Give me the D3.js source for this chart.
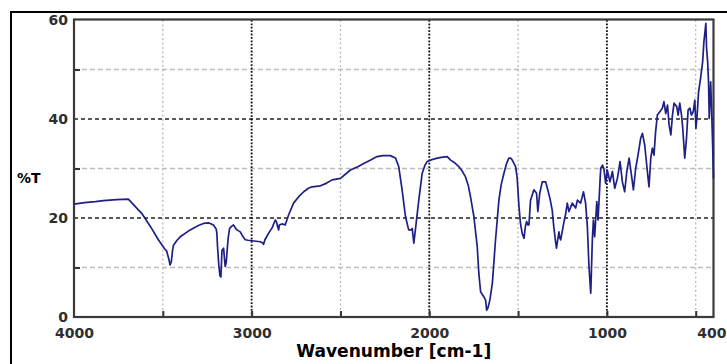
<!DOCTYPE html>
<html>
<head>
<meta charset="utf-8">
<script src="https://cdn.jsdelivr.net/npm/d3@7"></script>
<style>
	html, body { margin: 0; padding: 0; background: #fff; }
	svg { display: block; }
	.lbl text { font-family: 'DejaVu Sans', sans-serif; font-weight: bold; font-size: 14px; fill: #2e2e2e; }
</style>
</head>
<body>
<div id="chart"></div>
<script>
// spectrum (wavenumber cm-1, %T)
var wavenumber = [
	4000, 3940, 3880, 3835, 3760, 3694, 3660, 3618, 3570, 3525, 3490, 3478, 3465, 3459, 3452, 3445, 3440, 3420, 3402, 3346,
	3300, 3271, 3240, 3215, 3200, 3196, 3192, 3185, 3178, 3173, 3167, 3158, 3152, 3149, 3143, 3139, 3132, 3124, 3110, 3102,
	3090, 3083, 3064, 3050, 3036, 3020, 2998, 2975, 2951, 2940, 2933, 2925, 2905, 2885, 2867, 2860, 2852, 2848, 2844, 2830,
	2811, 2792, 2764, 2735, 2707, 2680, 2660, 2613, 2580, 2547, 2500, 2444, 2400, 2369, 2330, 2294, 2260, 2219, 2190, 2172,
	2153, 2134, 2116, 2100, 2096, 2087, 2074, 2059, 2040, 2025, 2012, 1985, 1955, 1925, 1899, 1880, 1855, 1834, 1815, 1796,
	1780, 1768, 1749, 1730, 1721, 1711, 1695, 1683, 1677, 1670, 1659, 1645, 1627, 1608, 1595, 1580, 1565, 1552, 1542, 1533,
	1514, 1505, 1495, 1487, 1477, 1467, 1458, 1452, 1445, 1439, 1430, 1411, 1396, 1389, 1384, 1378, 1364, 1345, 1333, 1321,
	1308, 1299, 1290, 1284, 1270, 1265, 1260, 1245, 1232, 1223, 1214, 1195, 1176, 1166, 1148, 1132, 1120, 1110, 1101, 1091,
	1082, 1076, 1069, 1057, 1050, 1039, 1035, 1025, 1016, 1007, 998, 983, 969, 956, 941, 926, 913, 900, 888, 875,
	862, 851, 838, 825, 810, 800, 787, 776, 763, 753, 744, 735, 726, 716, 701, 688, 679, 669, 659, 650,
	640, 631, 622, 607, 599, 590, 580, 573, 562, 552, 543, 533, 524, 514, 505, 499, 492, 484, 473, 461,
	454, 443, 439, 433, 428, 424, 416, 411, 405, 400
];
var transmittance = [
	22.8, 23.1, 23.3, 23.5, 23.7, 23.8, 22.5, 20.9, 18.3, 15.6, 13.8, 13.3, 11.5, 10.5, 11.2, 13.5, 14.5, 15.5, 16.2, 17.6,
	18.5, 18.9, 19.0, 18.6, 17.8, 17.0, 14.2, 10.5, 8.3, 8.1, 13.5, 13.9, 11.5, 10.2, 11.0, 12.9, 16.0, 17.9, 18.4, 18.6,
	17.9, 17.6, 17.2, 16.3, 15.6, 15.5, 15.4, 15.3, 15.2, 15.0, 14.7, 15.6, 16.9, 18.0, 19.6, 19.2, 18.0, 17.6, 18.6, 18.8,
	18.6, 20.6, 23.0, 24.3, 25.3, 26.0, 26.3, 26.5, 27.0, 27.7, 28.0, 29.7, 30.4, 31.0, 31.7, 32.4, 32.6, 32.6, 32.1, 30.4,
	25.7, 20.3, 17.6, 17.6, 17.9, 14.9, 18.9, 23.6, 29.0, 30.6, 31.4, 31.8, 32.1, 32.3, 32.4, 31.7, 31.1, 30.4, 29.5, 28.3,
	26.5, 24.3, 20.3, 14.2, 8.8, 5.1, 4.2, 3.4, 1.4, 1.8, 3.4, 6.8, 15.6, 23.6, 26.8, 29.0, 31.0, 32.1, 32.1, 31.7,
	30.4, 28.0, 22.3, 19.0, 16.9, 15.9, 18.5, 19.3, 18.6, 18.6, 23.6, 25.7, 25.0, 21.3, 23.0, 25.0, 27.3, 27.3, 25.7, 24.0,
	21.6, 18.2, 15.5, 13.9, 17.2, 16.0, 15.6, 18.6, 20.9, 23.0, 21.3, 23.0, 22.0, 23.6, 23.0, 25.3, 23.0, 18.2, 10.2, 4.8,
	15.6, 19.6, 16.2, 23.3, 19.6, 27.3, 30.0, 30.7, 29.7, 27.0, 29.7, 27.3, 29.4, 26.0, 28.0, 31.4, 27.3, 25.3, 29.4, 32.1,
	28.7, 25.7, 30.0, 32.7, 36.1, 37.1, 34.7, 30.7, 26.3, 32.1, 34.1, 32.7, 37.4, 40.8, 41.5, 42.2, 43.5, 41.1, 42.8, 38.8,
	36.8, 40.8, 43.2, 42.5, 40.8, 43.2, 40.8, 38.1, 32.1, 36.1, 41.8, 42.2, 40.8, 41.5, 43.8, 38.1, 40.8, 45.5, 48.2, 51.6,
	55.6, 59.3, 54.3, 51.6, 47.5, 40.1, 47.5, 42.2, 35.0, 28.0
];

var xLabels = [4000, 3000, 2000, 1000, 400];
var yLabels = [0, 20, 40, 60];
var xMajorGrid = [3000, 2000, 1000];
var xMinorGrid = [3500, 2500, 1500, 500];
var yMajorGrid = [20, 40];
var yMinorGrid = [10, 30, 50];

var cfg = {
	w: 727,
	h: 364,
	left: 74,
	right: 713.5,
	top: 20,
	bottom: 317
};

var data = wavenumber.map(function(d, i) { return { w: d, t: transmittance[i] }; });

var x = d3.scaleLinear().domain([4000, 400]).range([cfg.left, cfg.right]);
var y = d3.scaleLinear().domain([0, 60]).range([cfg.bottom, cfg.top]);

var svg = d3.select('#chart').append('svg')
	.attr('width', cfg.w)
	.attr('height', cfg.h);

// outer frame (only top and left are visible)
svg.append('path')
	.attr('d', 'M11,' + cfg.h + 'V12H' + cfg.w)
	.attr('fill', 'none')
	.attr('stroke', '#000')
	.attr('stroke-width', 2);

// grid
svg.append('g').selectAll('line')
	.data(yMinorGrid).enter().append('line')
	.attr('x1', cfg.left).attr('x2', cfg.right)
	.attr('y1', function(d) { return y(d); }).attr('y2', function(d) { return y(d); })
	.attr('stroke', '#bdbdbd').attr('stroke-width', 1.3).attr('stroke-dasharray', '5,3');

svg.append('g').selectAll('line')
	.data(xMinorGrid).enter().append('line')
	.attr('y1', cfg.top).attr('y2', cfg.bottom)
	.attr('x1', function(d) { return x(d); }).attr('x2', function(d) { return x(d); })
	.attr('stroke', '#b5b5b5').attr('stroke-width', 1.2).attr('stroke-dasharray', '2,2.5');

svg.append('g').selectAll('line')
	.data(yMajorGrid).enter().append('line')
	.attr('x1', cfg.left).attr('x2', cfg.right)
	.attr('y1', function(d) { return y(d); }).attr('y2', function(d) { return y(d); })
	.attr('stroke', '#222').attr('stroke-width', 1.4).attr('stroke-dasharray', '4,3');

svg.append('g').selectAll('line')
	.data(xMajorGrid).enter().append('line')
	.attr('y1', cfg.top).attr('y2', cfg.bottom)
	.attr('x1', function(d) { return x(d); }).attr('x2', function(d) { return x(d); })
	.attr('stroke', '#111').attr('stroke-width', 1.8).attr('stroke-dasharray', '1.8,1.6');

// small tick marks
svg.append('g')
	.attr('transform', 'translate(' + cfg.left + ',0)')
	.call(d3.axisLeft(y).tickValues(yMinorGrid).tickSize(-6).tickFormat(''))
	.call(function(g) {
		g.select('.domain').remove();
		g.selectAll('line').attr('stroke', '#333').attr('stroke-width', 2);
	});

svg.append('g')
	.attr('transform', 'translate(0,' + cfg.bottom + ')')
	.call(d3.axisBottom(x).tickValues(xMinorGrid.concat(xMajorGrid)).tickSize(-6).tickFormat(''))
	.call(function(g) {
		g.select('.domain').remove();
		g.selectAll('line').attr('stroke', '#333').attr('stroke-width', 2);
	});

// plot frame
svg.append('rect')
	.attr('x', cfg.left)
	.attr('y', cfg.top - 0.5)
	.attr('width', cfg.right - cfg.left)
	.attr('height', cfg.bottom - cfg.top + 0.5)
	.attr('fill', 'none')
	.attr('stroke', '#3a3a3a')
	.attr('stroke-width', 2.2);

// spectrum
var line = d3.line()
	.x(function(d) { return x(d.w); })
	.y(function(d) { return y(d.t); });

svg.append('path')
	.datum(data)
	.attr('d', line)
	.attr('fill', 'none')
	.attr('stroke', '#1f1f86')
	.attr('stroke-width', 1.7)
	.attr('stroke-linejoin', 'round');

// axis labels
svg.append('g')
	.classed('lbl', true)
	.attr('transform', 'translate(' + cfg.left + ',0)')
	.call(d3.axisLeft(y).tickValues(yLabels).tickSize(0).tickPadding(6).tickFormat(d3.format('d')))
	.call(function(g) {
		g.select('.domain').remove();
		g.selectAll('text').attr('fill', '#2e2e2e');
	});

svg.append('g')
	.classed('lbl', true)
	.attr('transform', 'translate(0,' + cfg.bottom + ')')
	.call(d3.axisBottom(x).tickValues(xLabels).tickSize(0).tickPadding(11).tickFormat(d3.format('d')))
	.call(function(g) {
		g.select('.domain').remove();
		g.selectAll('text').attr('fill', '#2e2e2e');
		// last label sits at the window edge: keep it inside
		g.selectAll('.tick').filter(function(d) { return d === 400; })
			.select('text')
			.attr('text-anchor', 'end')
			.attr('x', cfg.w - 1 - x(400));
	});

svg.append('text')
	.text('Wavenumber [cm-1]')
	.attr('x', (cfg.left + cfg.right) / 2)
	.attr('y', 357)
	.attr('text-anchor', 'middle')
	.attr('textLength', 195)
	.attr('lengthAdjust', 'spacingAndGlyphs')
	.style('font-family', "'DejaVu Sans', sans-serif")
	.style('font-weight', 'bold')
	.style('font-size', '17px')
	.style('fill', '#000');

svg.append('text')
	.text('%T')
	.attr('x', 17)
	.attr('y', 183)
	.style('font-family', "'DejaVu Sans', sans-serif")
	.style('font-weight', 'bold')
	.style('font-size', '14px')
	.style('fill', '#000');
</script>
</body>
</html>
